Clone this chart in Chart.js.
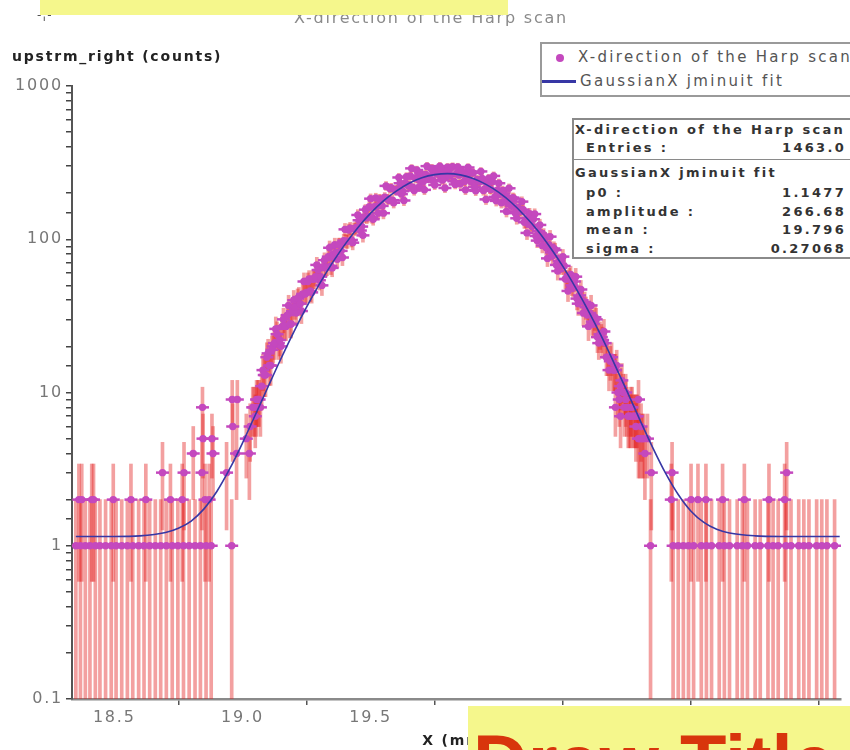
<!DOCTYPE html>
<html>
<head>
<meta charset="utf-8">
<script src="https://cdn.jsdelivr.net/npm/chart.js@4.4.1/dist/chart.umd.min.js"></script>
<style>
  html, body { margin: 0; padding: 0; background: #fff; }
  #wrap { position: relative; width: 850px; height: 750px; overflow: hidden; font-family: "DejaVu Sans", sans-serif; }
  canvas { position: absolute; left: 0; top: 0; }
  .box { position: absolute; background: #fff; border: 2px solid #9a9a9a; box-sizing: border-box; }
  .lg { position: absolute; font-size: 15px; color: #555; letter-spacing: 2.3px; white-space: nowrap; }
  .st { position: absolute; font-size: 13px; font-weight: bold; color: #333; letter-spacing: 2.3px; white-space: nowrap; line-height: 14px; }
  .yellow { position: absolute; background: #f5f78c; overflow: hidden; }
</style>
</head>
<body>
<div id="wrap">
  <canvas id="c" width="850" height="750"></canvas>

  <div style="position:absolute; left:37px; top:8px; font-size:12px; color:#555; letter-spacing:1px;">-¦-</div>

  <div class="box" style="left:540px; top:42px; width:330px; height:55px;">
    <div style="position:absolute; left:14px; top:10px; width:8px; height:8px; border-radius:50%; background:rgb(196,72,190);"></div>
    <div class="lg" style="left:36px; top:4px;">X-direction of the Harp scan</div>
    <div style="position:absolute; left:0px; top:36px; width:34px; height:3px; background:rgb(55,55,165);"></div>
    <div class="lg" style="left:38px; top:28px;">GaussianX jminuit fit</div>
  </div>

  <div class="box" style="left:572px; top:118px; width:300px; height:141px; border-color:#8a8a8a;">
    <div class="st" style="left:1px; top:3px;">X-direction of the Harp scan</div>
    <div class="st" style="left:12px; top:21px;">Entries :</div>
    <div class="st" style="left:180px; top:21px; width:92px; text-align:right;">1463.0</div>
    <div style="position:absolute; left:0; top:39px; width:300px; height:1px; background:#8a8a8a;"></div>
    <div class="st" style="left:1px; top:46px;">GaussianX jminuit fit</div>
    <div class="st" style="left:12px; top:66px;">p0 :</div>
    <div class="st" style="left:180px; top:66px; width:92px; text-align:right;">1.1477</div>
    <div class="st" style="left:12px; top:85px;">amplitude :</div>
    <div class="st" style="left:180px; top:85px; width:92px; text-align:right;">266.68</div>
    <div class="st" style="left:12px; top:103px;">mean :</div>
    <div class="st" style="left:180px; top:103px; width:92px; text-align:right;">19.796</div>
    <div class="st" style="left:12px; top:122px;">sigma :</div>
    <div class="st" style="left:180px; top:122px; width:92px; text-align:right;">0.27068</div>
  </div>

  <div class="yellow" style="left:40px; top:0px; width:468px; height:15px;"></div>
  <div class="yellow" style="left:468px; top:706px; width:390px; height:50px;">
    <div style="position:absolute; left:5px; top:18px; font-family:'Liberation Sans', Arial, sans-serif; font-weight:bold; font-size:76px; line-height:76px; color:#d8350c; white-space:nowrap;">Draw Title</div>
  </div>
</div>

<script>
// ---------- data ----------
// fitted Gaussian curve (x in mm, counts)
const fitX = [18.35, 18.5, 18.6, 18.7, 18.75, 18.8, 18.85, 18.9, 18.95, 19.0, 19.05, 19.1, 19.15, 19.2, 19.25, 19.3, 19.35, 19.4, 19.45, 19.5, 19.55, 19.6, 19.65, 19.7, 19.75, 19.8, 19.85, 19.9, 19.95, 20.0, 20.05, 20.1, 20.15, 20.2, 20.25, 20.3, 20.35, 20.4, 20.45, 20.5, 20.55, 20.6, 20.65, 20.7, 20.75, 20.8, 20.85, 20.9, 21.0, 21.1, 21.33];
const fitY = [1.15, 1.15, 1.16, 1.22, 1.30, 1.45, 1.74, 2.26, 3.17, 4.68, 7.13, 10.9, 16.6, 24.8, 36.0, 50.9, 69.8, 92.6, 119, 148, 178, 206, 232, 252, 264, 268, 263, 249, 228, 202, 173, 143, 115, 88.7, 66.5, 48.2, 34.0, 23.3, 15.5, 10.2, 6.66, 4.39, 2.99, 2.16, 1.68, 1.42, 1.28, 1.21, 1.16, 1.15, 1.15];

// left tail of the scan
const leftX = [18.350, 18.362, 18.368, 18.373, 18.387, 18.405, 18.412, 18.419, 18.426, 18.444, 18.466, 18.488, 18.496, 18.507, 18.529, 18.551, 18.565, 18.572, 18.595, 18.616, 18.623, 18.638, 18.660, 18.681, 18.688, 18.703, 18.719, 18.726, 18.748, 18.765, 18.770, 18.772, 18.792, 18.808, 18.815, 18.836, 18.842, 18.844, 18.846, 18.854, 18.858, 18.870, 18.878, 18.881, 18.885, 18.938, 18.958, 18.960, 18.962, 18.977, 18.980, 19.015, 19.027, 19.030, 19.054];
const leftN = [1, 2, 1, 2, 1, 1, 2, 2, 1, 1, 1, 1, 2, 1, 1, 1, 2, 1, 1, 1, 2, 1, 1, 1, 3, 1, 2, 1, 1, 2, 1, 3, 1, 4, 1, 1, 3, 8, 5, 2, 1, 2, 1, 5, 4, 3, 1, 9, 6, 4, 9, 5, 4, 6, 8];

// core of the scan (whole steps)
const coreX = [19.04, 19.05, 19.06, 19.07, 19.08, 19.09, 19.10, 19.11, 19.12, 19.13, 19.14, 19.15, 19.16, 19.17, 19.18, 19.19, 19.20, 19.21, 19.22, 19.23, 19.24, 19.25, 19.26, 19.27, 19.28, 19.29, 19.30, 19.31, 19.32, 19.33, 19.34, 19.35, 19.36, 19.37, 19.38, 19.39, 19.40, 19.41, 19.42, 19.43, 19.44, 19.45, 19.46, 19.47, 19.48, 19.49, 19.50, 19.51, 19.52, 19.53, 19.54, 19.55, 19.56, 19.57, 19.58, 19.59, 19.60, 19.61, 19.62, 19.63, 19.64, 19.65, 19.66, 19.67, 19.68, 19.69, 19.70, 19.71, 19.72, 19.73, 19.74, 19.75, 19.76, 19.77, 19.78, 19.79, 19.80, 19.81, 19.82, 19.83, 19.84, 19.85, 19.86, 19.87, 19.88, 19.89, 19.90, 19.91, 19.92, 19.93, 19.94, 19.95, 19.96, 19.97, 19.98, 19.99, 20.00, 20.01, 20.02, 20.03, 20.04, 20.05, 20.06, 20.07, 20.08, 20.09, 20.10, 20.11, 20.12, 20.13, 20.14, 20.15, 20.16, 20.17, 20.18, 20.19, 20.20, 20.21, 20.22, 20.23, 20.24, 20.25, 20.26, 20.27, 20.28, 20.29, 20.30, 20.31, 20.32, 20.33, 20.34, 20.35, 20.36, 20.37, 20.38, 20.39, 20.40, 20.41, 20.42, 20.43, 20.44, 20.45, 20.46, 20.47, 20.48, 20.49, 20.50, 20.51, 20.52, 20.53, 20.54, 20.55, 20.56];
const coreN = [8, 7, 9, 8, 14, 13, 18, 15, 20, 26, 21, 20, 30, 27, 37, 28, 40, 33, 42, 34, 53, 45, 55, 45, 55, 68, 54, 50, 73, 66, 88, 65, 92, 74, 92, 76, 116, 97, 118, 95, 117, 144, 114, 106, 156, 141, 184, 135, 186, 148, 181, 148, 223, 182, 217, 173, 208, 253, 197, 179, 256, 226, 290, 208, 283, 220, 263, 210, 300, 249, 290, 226, 267, 300, 243, 216, 295, 260, 298, 228, 296, 230, 268, 210, 294, 238, 271, 207, 239, 277, 208, 182, 249, 211, 259, 178, 232, 173, 199, 152, 215, 164, 184, 137, 155, 176, 129, 110, 147, 121, 146, 98, 124, 91, 101, 75, 104, 78, 85, 62, 69, 77, 55, 46, 59, 49, 57, 38, 47, 33, 36, 27, 37, 28, 30, 21, 23, 25, 17, 14, 17, 14, 15, 9, 12, 8, 8, 7, 8, 7, 7, 5, 5];

// core of the scan (half steps)
const coreHalfX = [19.045, 19.055, 19.065, 19.075, 19.085, 19.095, 19.105, 19.115, 19.125, 19.135, 19.145, 19.155, 19.165, 19.175, 19.185, 19.195, 19.205, 19.215, 19.225, 19.235, 19.245, 19.255, 19.265, 19.275, 19.285, 19.295, 19.305, 19.315, 19.325, 19.335, 19.345, 19.355, 19.365, 19.375, 19.385, 19.395, 19.405, 19.415, 19.425, 19.435, 19.445, 19.455, 19.465, 19.475, 19.485, 19.495, 19.505, 19.515, 19.525, 19.535, 19.545, 19.555, 19.565, 19.575, 19.585, 19.595, 19.605, 19.615, 19.625, 19.635, 19.645, 19.655, 19.665, 19.675, 19.685, 19.695, 19.705, 19.715, 19.725, 19.735, 19.745, 19.755, 19.765, 19.775, 19.785, 19.795, 19.805, 19.815, 19.825, 19.835, 19.845, 19.855, 19.865, 19.875, 19.885, 19.895, 19.905, 19.915, 19.925, 19.935, 19.945, 19.955, 19.965, 19.975, 19.985, 19.995, 20.005, 20.015, 20.025, 20.035, 20.045, 20.055, 20.065, 20.075, 20.085, 20.095, 20.105, 20.115, 20.125, 20.135, 20.145, 20.155, 20.165, 20.175, 20.185, 20.195, 20.205, 20.215, 20.225, 20.235, 20.245, 20.255, 20.265, 20.275, 20.285, 20.295, 20.305, 20.315, 20.325, 20.335, 20.345, 20.355, 20.365, 20.375, 20.385, 20.395, 20.405, 20.415, 20.425, 20.435, 20.445, 20.455, 20.465, 20.475, 20.485, 20.495, 20.505, 20.515, 20.525, 20.535, 20.545, 20.555];
const coreHalfN = [8, 9, 9, 11, 13, 17, 15, 19, 21, 24, 22, 27, 27, 32, 28, 34, 36, 41, 38, 44, 44, 53, 46, 55, 57, 63, 57, 66, 65, 77, 67, 80, 82, 92, 84, 98, 97, 115, 99, 117, 120, 133, 121, 140, 138, 163, 139, 163, 165, 183, 165, 188, 183, 214, 180, 210, 211, 232, 206, 233, 224, 259, 216, 249, 248, 269, 237, 265, 253, 289, 239, 272, 268, 288, 251, 278, 260, 294, 239, 269, 262, 278, 239, 262, 244, 273, 220, 246, 237, 249, 213, 231, 213, 237, 189, 209, 200, 208, 175, 187, 171, 187, 148, 161, 152, 156, 130, 138, 124, 135, 105, 113, 106, 107, 88, 92, 82, 87, 68, 72, 67, 67, 55, 57, 50, 53, 41, 43, 40, 39, 32, 33, 29, 31, 23, 24, 22, 21, 17, 16, 14, 14, 10, 11, 10, 9, 7, 8, 7, 7, 5, 6];

// right tail of the scan
const rightX = [20.455, 20.475, 20.495, 20.515, 20.535, 20.545, 20.565, 20.570, 20.580, 20.592, 20.595, 20.673, 20.676, 20.680, 20.700, 20.720, 20.740, 20.750, 20.760, 20.777, 20.790, 20.808, 20.810, 20.830, 20.860, 20.873, 20.880, 20.900, 20.930, 20.950, 20.958, 20.970, 21.000, 21.020, 21.050, 21.054, 21.070, 21.090, 21.115, 21.120, 21.123, 21.140, 21.170, 21.190, 21.210, 21.240, 21.260, 21.280, 21.310];
const rightN = [8, 7, 10, 7, 6, 9, 5, 4, 5, 1, 3, 2, 3, 1, 1, 1, 1, 2, 1, 2, 1, 2, 1, 1, 1, 2, 1, 1, 1, 1, 2, 1, 1, 1, 1, 2, 1, 1, 2, 1, 3, 1, 1, 1, 1, 1, 1, 1, 1];

const xTicks = [18.5, 19.0, 19.5, 20.0, 20.5, 21.0];
const yDecades = [0.1, 1, 10, 100, 1000];

// ---------- build datasets ----------
const allX = leftX.concat(coreX, coreHalfX, rightX);
const allN = leftN.concat(coreN, coreHalfN, rightN);
const points = allX.map((x, i) => ({ x: x, y: allN[i] }));
const errorBars = allX.map((x, i) => {
  const n = allN[i], e = Math.sqrt(n);
  return { x: x, y: [Math.max(n - e, 0.02), n + e] };
});
const fitPts = fitX.map((x, i) => ({ x: x, y: fitY[i] }));

const PINK = 'rgb(196,72,190)';
const FONT = "'DejaVu Sans', sans-serif";

const spacing = {
  id: 'spacing',
  beforeLayout(chart) { chart.ctx.letterSpacing = '1.8px'; },
  beforeDraw(chart) { chart.ctx.letterSpacing = '1.8px'; }
};

new Chart(document.getElementById('c'), {
  type: 'scatter',
  plugins: [spacing],
  data: {
    datasets: [
      { type: 'line', label: 'GaussianX jminuit fit', data: fitPts, borderColor: 'rgb(55,55,165)', borderWidth: 1.6,
        pointRadius: 0, cubicInterpolationMode: 'monotone', fill: false, order: 0 },
      { type: 'scatter', label: 'X-direction of the Harp scan', data: points, pointStyle: 'circle', pointRadius: 3.7,
        pointHoverRadius: 3.7, pointBackgroundColor: PINK, pointBorderWidth: 0, order: 1 },
      { type: 'scatter', label: 'bin width', data: points, pointStyle: 'line', pointRadius: 6.5, pointHoverRadius: 6.5,
        pointBorderColor: PINK, pointBorderWidth: 2.5, order: 2 },
      { type: 'bar', label: 'errors', data: errorBars, backgroundColor: 'rgba(226,28,28,0.42)', borderWidth: 0,
        barThickness: 3, order: 3 }
    ]
  },
  options: {
    responsive: false,
    animation: false,
    devicePixelRatio: 1,
    layout: { padding: { left: 12, right: 0, top: 0, bottom: 0 } },
    plugins: {
      legend: { display: false },
      tooltip: { enabled: false },
      title: { display: true, text: 'X-direction of the Harp scan', color: '#8a8a8a',
        font: { family: FONT, size: 16, weight: 'normal' }, padding: { top: 9, bottom: 6 } },
      subtitle: { display: true, text: 'upstrm_right (counts)', align: 'start', color: '#222',
        font: { family: FONT, size: 14, weight: 'bold' }, padding: { top: 15, bottom: 20 } }
    },
    scales: {
      x: {
        type: 'linear', min: 18.335, max: 21.335, offset: false,
        afterBuildTicks: (s) => { s.ticks = xTicks.map(v => ({ value: v })); },
        ticks: { callback: (v) => Number(v).toFixed(1), color: '#777', font: { family: FONT, size: 16 },
          padding: 3, maxRotation: 0, autoSkip: false, includeBounds: false },
        grid: { drawOnChartArea: false, drawTicks: true, tickLength: 6, color: '#555', lineWidth: 1.5 },
        border: { color: '#8a8a8a', width: 2.5 },
        title: { display: true, text: 'X (mm)', color: '#222', font: { family: FONT, size: 14, weight: 'bold' },
          padding: { top: 3, bottom: 0 } }
      },
      y: {
        type: 'logarithmic', min: 0.1, max: 1000,
        ticks: { autoSkip: false, color: '#777', font: { family: FONT, size: 16 }, padding: 3,
          callback: (v) => {
            const hit = yDecades.find(d => Math.abs(d - v) < d * 1e-6);
            return hit === undefined ? '' : String(hit);
          } },
        grid: { drawOnChartArea: false, drawTicks: true, tickLength: 6, color: '#444', lineWidth: 1.5 },
        border: { color: '#555', width: 2 },
        afterFit: (s) => { s.width = 60; }
      }
    }
  }
});
</script>
</body>
</html>
